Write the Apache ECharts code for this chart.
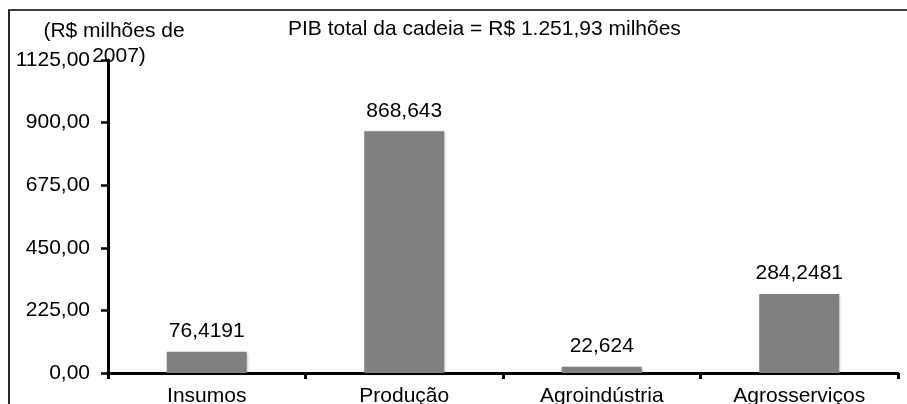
<!DOCTYPE html>
<html>
<head>
<meta charset="utf-8">
<script src="https://cdn.jsdelivr.net/npm/echarts@6/dist/echarts.min.js"></script>
<style>html,body{margin:0;padding:0;background:#fff;}#c{width:907px;height:404px;}</style>
</head>
<body>
<div id="c"></div>
<script>
const categories = ['Insumos', 'Produção', 'Agroindústria', 'Agrosserviços'];
const values = [76.4191, 868.643, 22.624, 284.2481];
const valueLabels = ['76,4191', '868,643', '22,624', '284,2481'];
const yTicks = [0, 225, 450, 675, 900, 1125];
const titleText = 'PIB total da cadeia = R$ 1.251,93 milhões';
const unitLine1 = '(R$ milhões de';
const unitLine2 = '2007)';

const chart = echarts.init(document.getElementById('c'), null, {renderer: 'canvas'});
const font = 'Arial, "Liberation Sans", sans-serif';
const fs = 21;
chart.setOption({
  animation: false,
  textStyle: {fontFamily: font},
  graphic: [
    {type: 'rect', shape: {x: 9, y: 10, width: 1000, height: 500}, style: {fill: 'none', stroke: '#000', lineWidth: 1.7}, z: -1},
    {type: 'text', x: 288, y: 29, style: {text: titleText, font: fs + 'px ' + font, fill: '#000', verticalAlign: 'middle', align: 'left'}},
    {type: 'text', x: 114, y: 31, style: {text: unitLine1, font: fs + 'px ' + font, fill: '#000', verticalAlign: 'middle', align: 'center'}},
    {type: 'text', x: 119, y: 56, style: {text: unitLine2, font: fs + 'px ' + font, fill: '#000', verticalAlign: 'middle', align: 'center'}}
  ],
  grid: {left: 108, right: 9, top: 60, bottom: 31, containLabel: false, outerBoundsMode: 'none'},
  xAxis: {
    type: 'category',
    data: categories,
    axisLine: {lineStyle: {color: '#000', width: 3}},
    axisTick: {show: true, length: 6, lineStyle: {color: '#000', width: 3}},
    axisLabel: {color: '#000', fontSize: fs, margin: 13, fontFamily: font}
  },
  yAxis: {
    type: 'value',
    min: 0, max: yTicks[yTicks.length - 1], interval: 225,
    splitLine: {show: false},
    axisLine: {show: true, lineStyle: {color: '#000', width: 3}},
    axisTick: {show: true, length: 7, lineStyle: {color: '#000', width: 2.5}},
    axisLabel: {color: '#000', fontSize: fs, margin: 18, fontFamily: font,
      formatter: v => v.toFixed(2).replace('.', ',')}
  },
  series: [{
    type: 'bar',
    data: values,
    barWidth: '40.5%',
    itemStyle: {color: '#808080', shadowColor: 'rgba(0,0,0,0.25)', shadowBlur: 3, shadowOffsetX: 1, shadowOffsetY: 1},
    label: {show: true, position: 'top', distance: 10, color: '#000', fontSize: fs, fontFamily: font,
      formatter: p => valueLabels[p.dataIndex]}
  }]
});
</script>
</body>
</html>
